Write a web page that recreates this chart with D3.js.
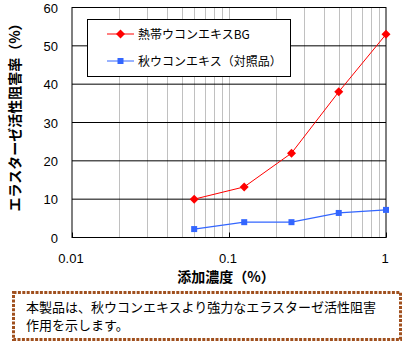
<!DOCTYPE html>
<html><head><meta charset="utf-8">
<script src="https://cdn.jsdelivr.net/npm/d3@7"></script>
<style>
body{margin:0;background:#fff;}
svg{display:block;}
</style></head>
<body>
<svg id="c" width="407" height="341"></svg>
<script>
const concentrations = [0.06, 0.125, 0.25, 0.5, 1];
const seriesNames = ["熱帯ウコンエキスBG", "秋ウコンエキス（対照品）"];
const tropicalValues = [10, 13.2, 22, 38, 53];
const autumnValues = [2.2, 4.0, 4.0, 6.4, 7.2];
const yTicks = [0, 10, 20, 30, 40, 50, 60];
const xTickLabels = ["0.01", "0.1", "1"];
const xTickValues = [0.01, 0.1, 1];
const yTitle = "エラスターゼ活性阻害率（%）";
const xTitle = "添加濃度（%）";
const noteLines = ["本製品は、秋ウコンエキスより強力なエラスターゼ活性阻害", "作用を示します。"];

const svg = d3.select("#c");
const L = 72, R = 386, T = 7.5, B = 237.5;
const x = d3.scaleLog().domain([0.01, 1]).range([L, R]);
const y = d3.scaleLinear().domain([0, 60]).range([B, T]);
const jp = "'Noto Sans CJK JP', sans-serif";
const lat = "'Liberation Sans', Arial, sans-serif";

// minor vertical gridlines
const minor = [];
for (let d = 0.01; d < 1; d *= 10) for (let k = 1; k <= 9; k++) { const v = d * k; if (v > 0.01 && v < 1) minor.push(v); }
svg.append("g").selectAll("line").data(minor).join("line")
  .attr("x1", d => Math.round(x(d)) + 0.5).attr("x2", d => Math.round(x(d)) + 0.5)
  .attr("y1", T).attr("y2", B).attr("stroke", "#c0c0c0").attr("stroke-width", 1);

// horizontal gridlines
svg.append("g").selectAll("line").data(yTicks).join("line")
  .attr("x1", L).attr("x2", R)
  .attr("y1", d => y(d)).attr("y2", d => y(d)).attr("stroke", "#000").attr("stroke-width", 1);

// plot border
svg.append("rect").attr("x", L).attr("y", T).attr("width", R - L).attr("height", B - T)
  .attr("fill", "none").attr("stroke", "#000");

// x axis inward ticks
svg.append("g").selectAll("line").data(xTickValues).join("line")
  .attr("x1", d => Math.round(x(d)) + 0.5).attr("x2", d => Math.round(x(d)) + 0.5)
  .attr("y1", B).attr("y2", B - 5).attr("stroke", "#000");

// y labels
svg.append("g").selectAll("text").data(yTicks).join("text")
  .attr("x", 58).attr("y", d => y(d) + 5).attr("text-anchor", "end")
  .attr("font-family", lat).attr("font-size", 13).text(d => d);

// x labels
svg.append("g").selectAll("text").data(xTickValues).join("text")
  .attr("x", d => x(d) - 1).attr("y", 263).attr("text-anchor", "middle")
  .attr("font-family", lat).attr("font-size", 13).text((d, i) => xTickLabels[i]);

// titles
svg.append("text").attr("transform", "translate(20,114) rotate(-90)")
  .attr("text-anchor", "middle").attr("font-family", jp).attr("font-weight", "bold")
  .attr("font-size", 14).text(yTitle);
svg.append("text").attr("x", 226).attr("y", 282).attr("text-anchor", "middle")
  .attr("font-family", jp).attr("font-weight", "bold").attr("font-size", 14).text(xTitle);

// series
const line = d3.line().x(d => x(d[0])).y(d => y(d[1]));
const redData = concentrations.map((c, i) => [c, tropicalValues[i]]);
const blueData = concentrations.map((c, i) => [c, autumnValues[i]]);
svg.append("path").datum(blueData).attr("d", line).attr("fill", "none").attr("stroke", "#3366ff").attr("stroke-width", 1.2);
svg.append("g").selectAll("rect").data(blueData).join("rect")
  .attr("x", d => x(d[0]) - 3).attr("y", d => y(d[1]) - 3).attr("width", 6).attr("height", 6).attr("fill", "#3366ff");
svg.append("path").datum(redData).attr("d", line).attr("fill", "none").attr("stroke", "#ff0000").attr("stroke-width", 1);
const diamond = (cx, cy, r) => `M${cx},${cy - r}L${cx + r},${cy}L${cx},${cy + r}L${cx - r},${cy}Z`;
svg.append("g").selectAll("path").data(redData).join("path")
  .attr("d", d => diamond(x(d[0]), y(d[1]), 4.5)).attr("fill", "#ff0000");

// legend
const lg = svg.append("g");
lg.append("rect").attr("x", 87.5).attr("y", 19.5).attr("width", 203).attr("height", 57)
  .attr("fill", "#fff").attr("stroke", "#000");
const legendRows = [
  {name: seriesNames[0], color: "#ff0000", y: 34, shape: "d"},
  {name: seriesNames[1], color: "#3366ff", y: 61, shape: "s"}
];
legendRows.forEach(r => {
  lg.append("line").attr("x1", 107).attr("x2", 134).attr("y1", r.y).attr("y2", r.y).attr("stroke", r.color);
  if (r.shape === "d") lg.append("path").attr("d", diamond(120.5, r.y, 4.5)).attr("fill", r.color);
  else lg.append("rect").attr("x", 117.5).attr("y", r.y - 3).attr("width", 6).attr("height", 6).attr("fill", r.color);
  lg.append("text").attr("x", 138).attr("y", r.y + 4.5).attr("font-family", jp).attr("font-size", 12).text(r.name);
});

// note box
svg.append("rect").attr("x", 13.5).attr("y", 292.5).attr("width", 387).attr("height", 47)
  .attr("fill", "#fff").attr("stroke", "#a0501e").attr("stroke-width", 3).attr("stroke-dasharray", "3,1.4");
const note = svg.append("text").attr("font-family", jp).attr("font-size", 13);
note.selectAll("tspan").data(noteLines).join("tspan")
  .attr("x", 26).attr("y", (d, i) => 312 + i * 18).text(d => d);
</script>
</body></html>
